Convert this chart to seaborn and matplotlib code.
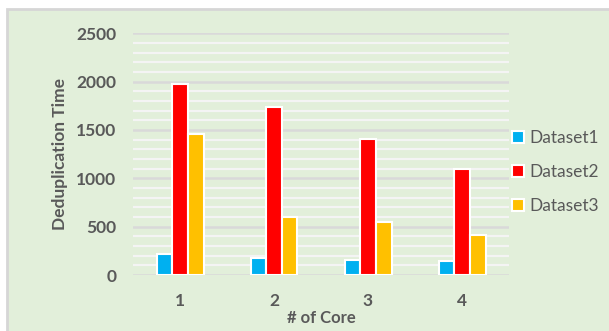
import matplotlib
matplotlib.use("Agg")
import matplotlib.pyplot as plt
from matplotlib.patches import Rectangle
import seaborn as sns
import pandas as pd

cores = ["1", "2", "3", "4"]
dataset1 = [220, 180, 160, 140]
dataset2 = [1980, 1740, 1410, 1100]
dataset3 = [1460, 600, 550, 410]
series_names = ["Dataset1", "Dataset2", "Dataset3"]
colors = ["#00B0F0", "#FF0000", "#FFC000"]

df = pd.DataFrame({
    "core": cores * 3,
    "time": dataset1 + dataset2 + dataset3,
    "series": [s for s in series_names for _ in cores],
})

sns.set_theme(style="white")
plt.rcParams["font.family"] = ["Lato", "DejaVu Sans"]

text_gray = "#595959"
bg = "#E2EFDA"

fig = plt.figure(figsize=(6.09, 3.31), dpi=100)
fig.patch.set_facecolor("white")
# chart panel with thin grey frame
fig.patches.append(Rectangle((7 / 609, -0.01), 1.0, (331 - 9) / 331 + 0.01,
                             transform=fig.transFigure, facecolor=bg,
                             edgecolor="#D6D6D6", linewidth=2.0, zorder=-1))

ax = fig.add_axes([133 / 609, 56 / 331, 376 / 609, 241.7 / 331])
ax.set_zorder(1)
ax.set_facecolor("none")

sns.barplot(data=df, x="core", y="time", hue="series", palette=colors,
            saturation=1, width=0.5, edgecolor="white", linewidth=1.5, ax=ax,
            errorbar=None, legend=True, zorder=3)

ax.set_ylim(0, 2500)
ax.set_xlim(-0.5, 3.5)

# minor grid every 100, major grid every 500
for v in range(100, 2500, 100):
    if v % 500:
        ax.axhline(v, color="#F4F4F4", linewidth=1.6, zorder=1)
for v in range(0, 2501, 500):
    ax.axhline(v, color="#D9D9D9", linewidth=1.8, zorder=2)

ax.set_yticks(range(0, 2501, 500))
ax.tick_params(axis="both", length=0, labelsize=12.5, labelcolor=text_gray)
ax.tick_params(axis="y", pad=12)
ax.tick_params(axis="x", pad=13)
for lbl in ax.get_xticklabels() + ax.get_yticklabels():
    lbl.set_fontweight("bold")

for s in ax.spines.values():
    s.set_visible(False)

ax.set_xlabel("# of Core", fontsize=12, fontweight="bold", color=text_gray, labelpad=1)
ax.set_ylabel("Deduplication Time", fontsize=12.5, fontweight="bold", color=text_gray, labelpad=6)

handles, labels = ax.get_legend_handles_labels()
ax.get_legend().remove()
fig.legend(handles, labels, loc="center left", bbox_to_anchor=(496 / 609, 1 - 172 / 331),
           frameon=False, fontsize=12.5, labelcolor=text_gray,
           handlelength=0.7, handleheight=0.7, handletextpad=0.35,
           labelspacing=1.05)

fig.savefig("out.png", dpi=100, facecolor=fig.get_facecolor())
